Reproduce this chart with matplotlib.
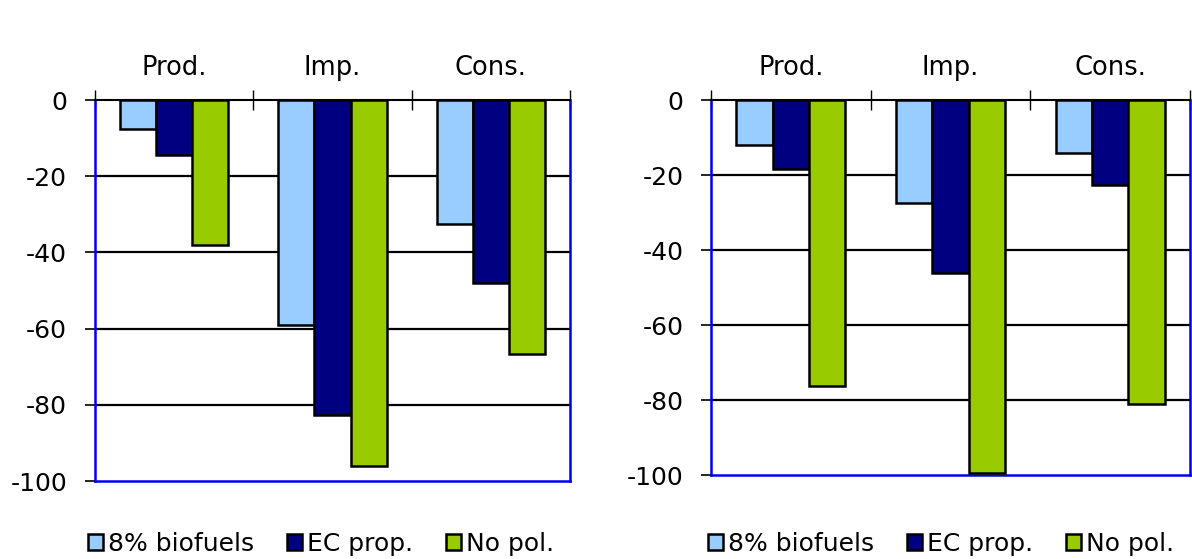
import matplotlib
matplotlib.use("Agg")
import matplotlib.pyplot as plt
from matplotlib.patches import Patch
from matplotlib.transforms import blended_transform_factory
import numpy as np

plt.rcParams['font.family'] = ['DejaVu Sans']

categories = ["Prod.", "Imp.", "Cons."]
series_names = ["8% biofuels", "EC prop.", "No pol."]
series_colors = ["#99CCFF", "#000080", "#99CC00"]

left_values = {
    "8% biofuels": [-7.5, -59.0, -32.6],
    "EC prop.": [-14.5, -82.6, -47.9],
    "No pol.": [-38.0, -96.0, -66.6],
}
right_values = {
    "8% biofuels": [-12.0, -27.5, -14.1],
    "EC prop.": [-18.4, -46.1, -22.7],
    "No pol.": [-76.3, -99.5, -81.0],
}
y_ticks = [0, -20, -40, -60, -80, -100]

fig = plt.figure(figsize=(11.92, 5.59), dpi=100)
ax_left = fig.add_axes([0.0797, 0.1395, 0.3985, 0.6815])
ax_right = fig.add_axes([0.5965, 0.150, 0.4018, 0.671])

bar_w = 0.228
axis_blue = "#0000EE"
fs = 18


def draw_panel(ax, values):
    x = np.arange(len(categories)) + 0.5
    for i, name in enumerate(series_names):
        ax.bar(x + (i - 1) * bar_w, values[name], width=bar_w,
               color=series_colors[i], edgecolor="black", linewidth=1.8,
               zorder=3)
    ax.set_xlim(0, len(categories))
    ax.set_ylim(-100, 0)
    ax.set_yticks(y_ticks)
    ax.set_yticklabels([str(v) for v in y_ticks])
    for v in y_ticks[1:-1]:
        ax.axhline(v, color="black", linewidth=1.6, zorder=1)
    for side in ("left", "right", "bottom"):
        ax.spines[side].set_color(axis_blue)
        ax.spines[side].set_linewidth(1.8)
    ax.spines["top"].set_color("black")
    ax.spines["top"].set_linewidth(1.5)
    ax.spines["top"].set_zorder(4)
    ax.tick_params(axis="y", direction="out", length=7, width=1.2,
                   color="black", labelsize=fs, pad=13)
    ax.xaxis.set_ticks_position("top")
    ax.set_xticks(np.arange(len(categories) + 1))
    ax.set_xticklabels([])
    ax.tick_params(axis="x", direction="inout", length=14, width=1.0,
                   color="black")
    trans = blended_transform_factory(ax.transData, ax.transAxes)
    for xi, cat in zip(x, categories):
        ax.annotate(cat, xy=(xi, 1.0), xycoords=trans, xytext=(0, 18),
                    textcoords="offset points", ha="center", va="baseline",
                    fontsize=18.5)


draw_panel(ax_left, left_values)
draw_panel(ax_right, right_values)

handles = [Patch(facecolor=c, edgecolor="black", linewidth=1.8)
           for c in series_colors]
leg_kw = dict(ncol=3, frameon=False, fontsize=fs, handlelength=0.6,
              handleheight=0.6, handletextpad=0.2, columnspacing=1.32,
              loc="center left", borderaxespad=0, borderpad=0)
fig.legend(handles, series_names, bbox_to_anchor=(0.0738, 0.027), **leg_kw)
fig.legend(handles, series_names, bbox_to_anchor=(0.594, 0.027), **leg_kw)

fig.savefig("out.png", dpi=100)
